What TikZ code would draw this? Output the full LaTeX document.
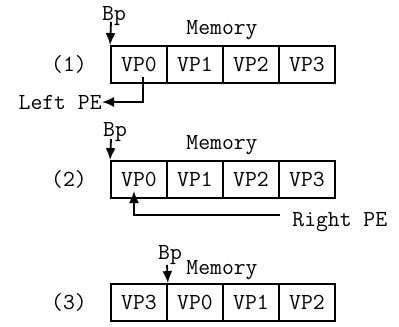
\documentclass[tikz,border=0pt]{standalone}
\usepackage{fontspec}
\usetikzlibrary{positioning}
\usetikzlibrary{arrows.meta}
\begin{document}
\begin{tikzpicture}[x=0.5pt,y=-0.5pt,
  cell/.style={draw,line width=0.9pt,minimum width=28pt,minimum height=18.5pt,inner sep=0pt,font=\fontsize{11.5}{13}\ttfamily},
  txt/.style={inner sep=0pt,font=\fontsize{11.5}{13}\ttfamily},
  ptr/.style={line width=0.9pt,-{Latex[length=6pt,width=5pt]}}]
\useasboundingbox (0,0) rectangle (399,326);
% (1)
\foreach \v [count=\i from 0] in {VP0,VP1,VP2,VP3}
  \node[cell] (a\i) at (139+56*\i,64.5) {\v};
\node[txt] (n1) at (69,64.5) {(1)};
\node[txt] (bp1) at (114,16) {Bp};
\node[txt] (mem1) at (222,30) {Memory};
\coordinate (t1) at (111,22);
\draw[ptr] (t1) -- (a0.north west);
\node[txt,anchor=east] (lpe) at (102,102) {Left PE};
\coordinate (l1) at (143,77);
\draw[ptr] (l1) |- (lpe.east);
% (2)
\foreach \v [count=\i from 0] in {VP0,VP1,VP2,VP3}
  \node[cell] (b\i) at (139+56*\i,179.5) {\v};
\node[txt] (n2) at (69,179.5) {(2)};
\node[txt] (bp2) at (115,132) {Bp};
\node[txt] (mem2) at (222,145) {Memory};
\coordinate (t2) at (111,139);
\draw[ptr] (t2) -- (b0.north west);
\node[txt,anchor=west] (rpe) at (292,222) {Right PE};
\coordinate (r1) at (280,215);
\coordinate (r2) at (134,191);
\draw[ptr] (r1) -| (r2);
% (3)
\foreach \v [count=\i from 0] in {VP3,VP0,VP1,VP2}
  \node[cell] (c\i) at (139+56*\i,302.5) {\v};
\node[txt] (n3) at (69,302.5) {(3)};
\node[txt] (bp3) at (170,255) {Bp};
\node[txt] (mem3) at (222,270) {Memory};
\coordinate (t3) at (167,265);
\draw[ptr] (t3) -- (c0.north east);
\end{tikzpicture}
\end{document}
